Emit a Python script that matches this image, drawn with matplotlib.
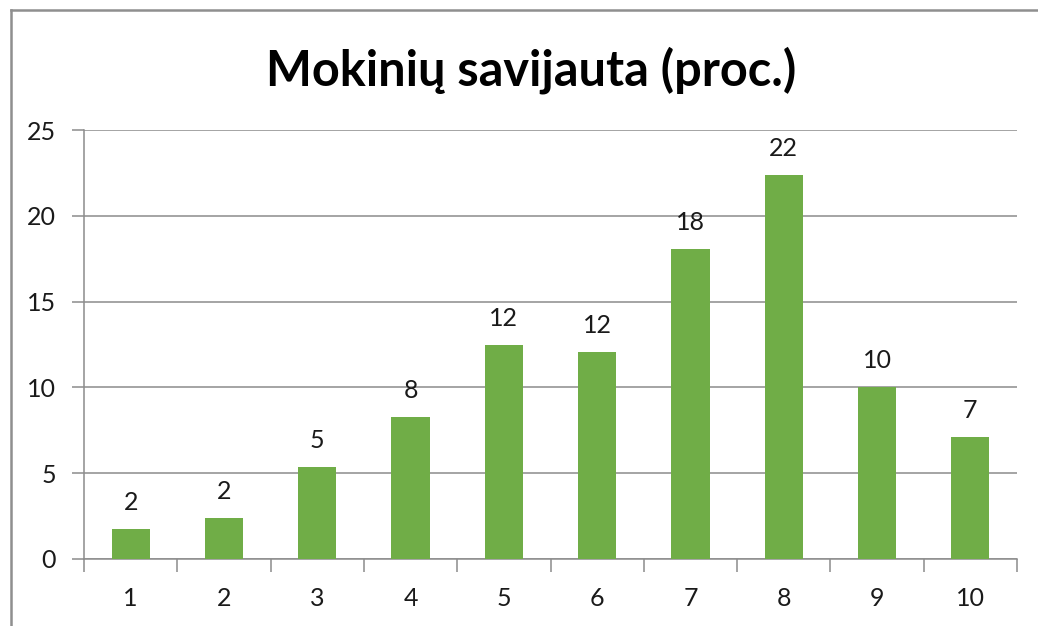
import matplotlib.pyplot as plt
from matplotlib.lines import Line2D

# Data
categories = ['1', '2', '3', '4', '5', '6', '7', '8', '9', '10']
values = [1.75, 2.39, 5.36, 8.27, 12.47, 12.06, 18.07, 22.38, 10.02, 7.11]
title = 'Mokinių savijauta (proc.)'

BAR_COLOR = '#70AD47'
GRID_COLOR = '#8C8C8C'
TEXT_COLOR = '#1A1A1A'

plt.rcParams['font.family'] = ['Lato', 'DejaVu Sans']

fig = plt.figure(figsize=(10.38, 6.26), dpi=100)
ax = fig.add_axes([84 / 1038, 1 - 559 / 626, (1017 - 84) / 1038, (559 - 130) / 626])

x = list(range(1, len(categories) + 1))
bars = ax.bar(x, values, width=0.41, color=BAR_COLOR, zorder=3)

for xi, v in zip(x, values):
    ax.annotate(f'{v:.0f}', (xi, v), xytext=(0, 11), textcoords='offset points',
                ha='center', va='bottom', fontsize=18, color=TEXT_COLOR)

ax.set_xlim(0.5, len(categories) + 0.5)
ax.set_ylim(0, 25)
ax.set_yticks(range(0, 26, 5))
ax.yaxis.grid(True, color=GRID_COLOR, lw=1.1, zorder=0)

# category labels between boundary ticks (Excel style)
ax.set_xticks([i + 0.5 for i in range(len(categories) + 1)])
ax.set_xticklabels([])
ax.set_xticks(x, minor=True)
ax.set_xticklabels(categories, minor=True)
ax.tick_params(axis='x', which='major', length=9, width=1.1, color=GRID_COLOR)
ax.tick_params(axis='x', which='minor', length=0, pad=20, labelsize=18, labelcolor=TEXT_COLOR)
ax.tick_params(axis='y', length=9, width=1.1, color=GRID_COLOR, pad=11,
               labelsize=18, labelcolor=TEXT_COLOR)

for side in ['top', 'right']:
    ax.spines[side].set_visible(False)
for side in ['left', 'bottom']:
    ax.spines[side].set_color(GRID_COLOR)
    ax.spines[side].set_linewidth(1.1)

fig.text(531 / 1038, 1 - 70 / 626, title, ha='center', va='center',
         fontsize=35, fontweight='bold', color='black')

# chart border (only top and left visible in the crop)
fig.add_artist(Line2D([10.5 / 1038, 10.5 / 1038], [0, 1 - 10 / 626],
                      color='#8F8F8F', lw=1.8, transform=fig.transFigure))
fig.add_artist(Line2D([10.5 / 1038, 1], [1 - 10 / 626, 1 - 10 / 626],
                      color='#8F8F8F', lw=1.8, transform=fig.transFigure))

fig.savefig('out.png', dpi=100)
